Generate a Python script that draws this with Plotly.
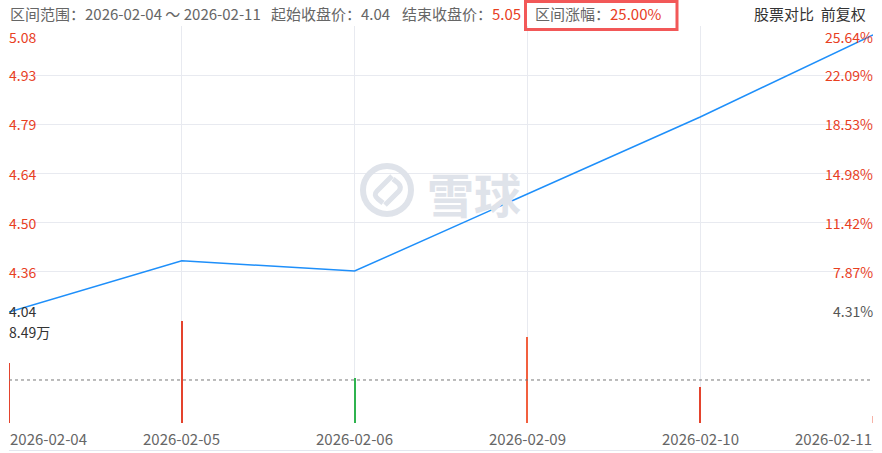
import plotly.graph_objects as go

# ---------------- data ----------------
dates = ["2026-02-04", "2026-02-05", "2026-02-06", "2026-02-09", "2026-02-10", "2026-02-11"]
close_prices = [4.24, 4.39, 4.36, 4.585, 4.81, 5.05]
volumes_wan = [4.97, 8.49, 3.72, 7.13, 3.02, 0.58]
volume_colors = ["#e4432d", "#e4432d", "#2fb34f", "#f2603f", "#e4432d", "#f7b3a8"]
volume_ref_line = 3.58

price_tickvals = [4.2141, 4.3577, 4.5014, 4.6450, 4.7886, 4.9323, 5.0759]
price_ticktext = ["4.04", "4.36", "4.50", "4.64", "4.79", "4.93", "5.08"]
pct_ticktext = ["4.31%", "7.87%", "11.42%", "14.98%", "18.53%", "22.09%", "25.64%"]
volume_max_label = "8.49万"

range_text = "区间范围：2026-02-04 ～ 2026-02-11"
start_label, start_value = "起始收盘价：", "4.04"
end_label, end_value = "结束收盘价：", "5.05"
chg_label, chg_value = "区间涨幅：", "25.00%"
right_header = "股票对比  前复权"

# ---------------- styling ----------------
W, H = 882, 453
L, R, T, B = 9, 873, 26, 423
SPLIT = 321
FONT = "Noto Sans CJK SC"
RED = "#e8401f"
GRAY = "#666666"
DARK = "#333333"
GRID = "#e8eaf0"
BLUE = "#1e8ffa"
HF = 15  # header font size


def px_x(px):
    return (px - L) / (R - L)


def px_y(py):
    return (B - py) / (B - T)


vol_dom_top = (B - SPLIT) / (B - T)

fig = go.Figure()
fig.add_trace(go.Scatter(x=dates, y=close_prices, mode="lines",
                         line=dict(color=BLUE, width=1.5),
                         xaxis="x", yaxis="y", hoverinfo="skip"))
fig.add_trace(go.Bar(x=dates, y=volumes_wan, marker=dict(color=volume_colors, line=dict(width=0)),
                     width=0.011, xaxis="x2", yaxis="y2", hoverinfo="skip"))

ann = []
n = len(price_tickvals)
for i, (v, lt, rt) in enumerate(zip(price_tickvals, price_ticktext, pct_ticktext)):
    if i == 0:
        ya = "bottom"
    elif i == n - 1:
        ya = "top"
    else:
        ya = "middle"
    lc = DARK if i == 0 else RED
    rc = "#555555" if i == 0 else RED
    ann.append(dict(x=0, y=v, xref="paper", yref="y", text=lt, showarrow=False,
                    xanchor="left", yanchor=ya, xshift=-1, yshift=(-1 if i == 0 else 0), borderpad=0,
                    font=dict(family=FONT, size=14, color=lc)))
    ann.append(dict(x=1, y=v, xref="paper", yref="y", text=rt, showarrow=False,
                    xanchor="right", yanchor=ya, xshift=1, yshift=(-1 if i == 0 else 0), borderpad=0,
                    font=dict(family=FONT, size=14, color=rc)))

ann.append(dict(x=0, y=max(volumes_wan), xref="paper", yref="y2", text=volume_max_label,
                showarrow=False, xanchor="left", yanchor="top", xshift=-1, borderpad=0,
                font=dict(family=FONT, size=14, color=DARK)))

# date labels
for i, d in enumerate(dates):
    xa = "left" if i == 0 else ("right" if i == len(dates) - 1 else "center")
    ann.append(dict(x=d, y=px_y(438), xref="x2", yref="paper", text=d, showarrow=False,
                    xanchor=xa, yanchor="middle", borderpad=0,
                    font=dict(family=FONT, size=15, color=GRAY)))

# header
hy = px_y(14)
ann.append(dict(x=px_x(9), y=hy, xref="paper", yref="paper", text=range_text, showarrow=False,
                xanchor="left", yanchor="middle", borderpad=0,
                font=dict(family=FONT, size=HF, color=GRAY)))
ann.append(dict(x=px_x(270), y=hy, xref="paper", yref="paper",
                text=f"{start_label}<span style='color:{GRAY}'>{start_value}</span>", showarrow=False,
                xanchor="left", yanchor="middle", borderpad=0,
                font=dict(family=FONT, size=HF, color=GRAY)))
ann.append(dict(x=px_x(401), y=hy, xref="paper", yref="paper",
                text=f"{end_label}<span style='color:{RED}'>{end_value}</span>", showarrow=False,
                xanchor="left", yanchor="middle", borderpad=0,
                font=dict(family=FONT, size=HF, color=GRAY)))
ann.append(dict(x=px_x(534), y=hy, xref="paper", yref="paper",
                text=f"{chg_label}<span style='color:{RED}'>{chg_value}</span>", showarrow=False,
                xanchor="left", yanchor="middle", borderpad=0,
                font=dict(family=FONT, size=HF, color=GRAY)))
ann.append(dict(x=px_x(867), y=hy, xref="paper", yref="paper", text=right_header, showarrow=False,
                xanchor="right", yanchor="middle", borderpad=0,
                font=dict(family=FONT, size=15, color=DARK)))

# watermark text
ann.append(dict(x=px_x(474), y=px_y(192), xref="paper", yref="paper", text="<b>雪球</b>",
                showarrow=False, xanchor="center", yanchor="middle",
                font=dict(family=FONT, size=47, color="#dfe3ea")))

shapes = [
    dict(type="rect", xref="paper", yref="paper", x0=px_x(525.5), x1=px_x(677),
         y0=px_y(29.5), y1=px_y(1.5), line=dict(color="#f25858", width=3)),
    dict(type="line", xref="paper", yref="y2", x0=0, x1=1, y0=volume_ref_line, y1=volume_ref_line,
         line=dict(color="#777777", width=1, dash="3px,3px")),
    dict(type="line", xref="paper", yref="paper", x0=px_x(9), x1=px_x(873), y0=px_y(450.5), y1=px_y(450.5),
         line=dict(color="#e3e7ef", width=1)),
    dict(type="circle", xref="paper", yref="paper", x0=px_x(363), x1=px_x(411),
         y0=px_y(214), y1=px_y(166), line=dict(color="#dfe3ea", width=6)),
    dict(type="path", xref="paper", yref="paper",
         path=(f"M {px_x(392)} {px_y(176)} L {px_x(377)} {px_y(191)} "
               f"Q {px_x(373)} {px_y(195)} {px_x(378)} {px_y(199)} L {px_x(383)} {px_y(203)}"),
         line=dict(color="#dfe3ea", width=5)),
    dict(type="path", xref="paper", yref="paper",
         path=(f"M {px_x(385)} {px_y(205)} L {px_x(399)} {px_y(191)} "
               f"Q {px_x(402)} {px_y(187)} {px_x(398)} {px_y(183)} L {px_x(393)} {px_y(179)}"),
         line=dict(color="#dfe3ea", width=5)),
]

axis_common = dict(showticklabels=False, ticks="", zeroline=False, showline=False, fixedrange=True)
fig.update_layout(
    width=W, height=H,
    margin=dict(l=L, r=W - R, t=T, b=H - B, pad=0),
    paper_bgcolor="white", plot_bgcolor="white",
    showlegend=False,
    xaxis=dict(type="category", range=[0, len(dates) - 1], domain=[0, 1], anchor="y",
               showgrid=True, gridcolor=GRID, gridwidth=1, **axis_common),
    xaxis2=dict(type="category", range=[0, len(dates) - 1], domain=[0, 1], anchor="y2",
                matches="x", showgrid=True, gridcolor=GRID, gridwidth=1, **axis_common),
    yaxis=dict(domain=[vol_dom_top, 1], range=[price_tickvals[0], price_tickvals[-1]],
               tickvals=price_tickvals, showgrid=True, gridcolor=GRID, gridwidth=1, **axis_common),
    yaxis2=dict(domain=[0, vol_dom_top], range=[0, max(volumes_wan)], showgrid=False, **axis_common),
    annotations=ann,
    shapes=shapes,
    bargap=0,
)

fig.write_html("out.html", config={"displayModeBar": False, "staticPlot": True},
               post_script="document.body.style.margin='0px';document.body.style.overflow='hidden';")
